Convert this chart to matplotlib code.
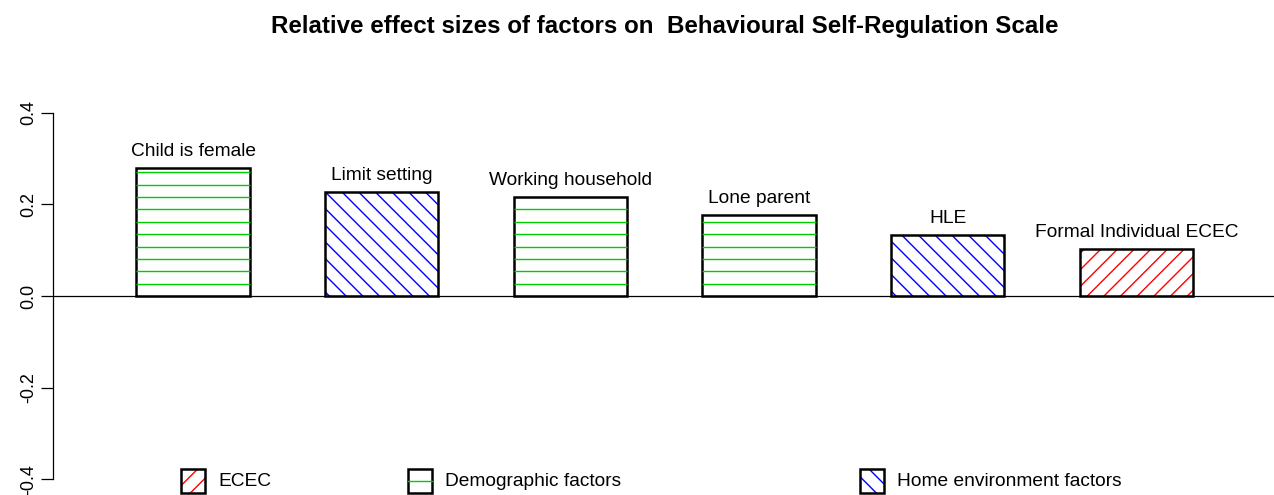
import numpy as np
import matplotlib
matplotlib.use('Agg')
import matplotlib.pyplot as plt
from matplotlib.patches import Rectangle

plt.rcParams['font.family'] = ['Liberation Sans', 'DejaVu Sans']
plt.rcParams['hatch.linewidth'] = 1.0

# ----------------------------------------------------------------
# DATA
factors = ['Child is female', 'Limit setting', 'Working household',
           'Lone parent', 'HLE', 'Formal Individual ECEC']
effects = [0.279, 0.227, 0.216, 0.177, 0.133, 0.103]
groups = ['Demographic factors', 'Home environment factors', 'Demographic factors',
          'Demographic factors', 'Home environment factors', 'ECEC']
legend_order = ['ECEC', 'Demographic factors', 'Home environment factors']
yticks = [-0.4, -0.2, 0.0, 0.2, 0.4]

# STYLES
colors = {'ECEC': '#FF0000', 'Demographic factors': '#00CD00',
          'Home environment factors': '#0000FF'}
hatches = {'ECEC': '//', 'Demographic factors': None,
           'Home environment factors': '\\\\'}
bar_w = 0.6
hstep = 0.027   # spacing of horizontal hatch lines (data units)

# ----------------------------------------------------------------
W, H = 1274, 495
fig = plt.figure(figsize=(W / 100, H / 100), dpi=100)
ax = fig.add_axes([53 / W, 1 / H, (W - 53) / W, 396 / H])

x = np.arange(len(factors))
for xi, name, val, grp in zip(x, factors, effects, groups):
    col = colors[grp]
    if hatches[grp] is not None:
        ax.bar(xi, val, width=bar_w, color='white', edgecolor=col,
               hatch=hatches[grp], linewidth=0)
    else:
        lines_y = np.arange(hstep, val, hstep)
        ax.hlines(lines_y, xi - bar_w / 2, xi + bar_w / 2, colors=col, linewidth=1.0)
    ax.bar(xi, val, width=bar_w, fill=False, edgecolor='black', linewidth=1.8)
    ax.annotate(name, (xi, val), xytext=(0, 11.7), textcoords='offset points',
                ha='center', va='center', fontsize=13.8)

ax.axhline(0, color='black', linewidth=0.9)
ax.set_xlim(-0.742, 5.729)
ax.set_ylim(-0.432, 0.432)
for s in ['top', 'right', 'bottom']:
    ax.spines[s].set_visible(False)
ax.spines['left'].set_bounds(-0.4, 0.4)
ax.spines['left'].set_linewidth(0.9)
ax.set_xticks([])
ax.set_yticks(yticks)
ax.set_yticklabels(['%.1f' % t for t in yticks], rotation=90, va='center', fontsize=13)
ax.tick_params(axis='y', length=8.6, width=0.9, pad=2.8)

fig.text(665 / W, 1 - 26 / H, 'Relative effect sizes of factors on  Behavioural Self-Regulation Scale',
         ha='center', va='center', fontsize=17.4, fontweight='bold')

# LEGEND (drawn by hand to follow the uneven spacing)
leg_x = [181, 408, 860]
for lx, grp in zip(leg_x, legend_order):
    col = colors[grp]
    bx, by, bw, bh = lx / W, 1 - 493 / H, 24 / W, 24 / H
    if hatches[grp] is not None:
        fig.patches.append(Rectangle((bx, by), bw, bh, transform=fig.transFigure,
                                     facecolor='white', edgecolor=col, hatch=hatches[grp],
                                     linewidth=0))
    else:
        fig.add_artist(plt.Line2D([bx, bx + bw], [by + bh / 2, by + bh / 2],
                                  transform=fig.transFigure, color=col, linewidth=1.0))
    fig.patches.append(Rectangle((bx, by), bw, bh, transform=fig.transFigure,
                                 fill=False, edgecolor='black', linewidth=1.8))
    fig.text((lx + 37) / W, 1 - 481 / H, grp, ha='left', va='center', fontsize=13.8)

fig.savefig('out.png', dpi=100)
